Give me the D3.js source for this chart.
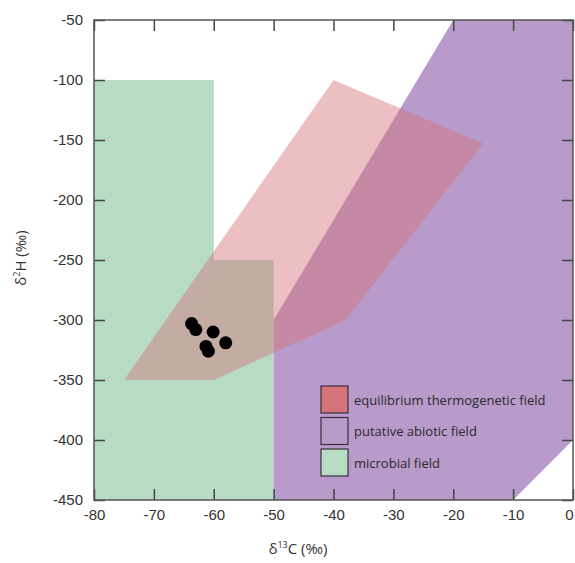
<!DOCTYPE html>
<html>
<head>
<meta charset="utf-8">
<script src="https://cdn.jsdelivr.net/npm/d3@7"></script>
<style>
  body { margin: 0; background: #fff; }
  svg { display: block; font-family: "Open Sans", "Noto Sans", sans-serif; }
  .axis text { fill: #333; font-size: 15px; }
</style>
</head>
<body>
<div id="chart"></div>
<script>
// fields as polygons in (d13C, d2H) space
const microbialField = [[-80, -100], [-60, -100], [-60, -250], [-50, -250], [-50, -450], [-80, -450]];
const abioticField = [[-50, -450], [-50, -300], [-20, -50], [0, -50], [0, -400], [-10, -450]];
const thermogenicField = [[-75, -350], [-40, -100], [-15, -153], [-38, -300], [-60, -350]];

// measured samples
const sampleC = [-63.7, -63.0, -60.1, -58.0, -61.3, -60.9];
const sampleH = [-303, -308, -310, -319, -322, -326];

const xTicks = [-80, -70, -60, -50, -40, -30, -20, -10, 0];
const yTicks = [-50, -100, -150, -200, -250, -300, -350, -400, -450];

const legendLabels = ['equilibrium thermogenetic field', 'putative abiotic field', 'microbial field'];
const legendColors = ['#d4737a', '#b89bcb', '#b6dcc4'];

const w = 575, h = 563;
const margin = {top: 20, right: 2, bottom: 63, left: 94};
const width = w - margin.left - margin.right;
const height = h - margin.top - margin.bottom;

const x = d3.scaleLinear().domain([-80, 0]).range([0, width]);
const y = d3.scaleLinear().domain([-50, -450]).range([0, height]);

const svg = d3.select('#chart').append('svg')
  .attr('width', w)
  .attr('height', h);

const chart = svg.append('g')
  .attr('transform', 'translate(' + margin.left + ',' + margin.top + ')');

chart.append('clipPath').attr('id', 'clip')
  .append('rect').attr('width', width).attr('height', height);

const line = d3.line().x(d => x(d[0])).y(d => y(d[1]));

const fields = chart.append('g').attr('clip-path', 'url(#clip)');

fields.append('path')
  .attr('d', line(microbialField) + 'Z')
  .style('fill', '#b7dbc3');

fields.append('path')
  .attr('d', line(abioticField) + 'Z')
  .style('fill', '#b89bcb');

fields.append('path')
  .attr('d', line(thermogenicField) + 'Z')
  .style('fill', '#d4737a')
  .style('fill-opacity', 0.45);

chart.append('g')
  .selectAll('circle')
  .data(sampleC)
  .enter()
  .append('circle')
  .attr('cx', d => x(d))
  .attr('cy', (d, i) => y(sampleH[i]))
  .attr('r', 6.5)
  .style('fill', '#000');

// axes with inward ticks on all four sides
const tickLen = 11;
const fmt = d => String(d);
const xAxis = chart.append('g')
  .attr('class', 'x axis')
  .attr('transform', 'translate(0,' + height + ')')
  .call(d3.axisBottom(x).tickValues(xTicks).tickSizeInner(-tickLen).tickSizeOuter(0).tickPadding(9).tickFormat(fmt));

// keep the last label inside the page
xAxis.selectAll('.tick text').filter(d => d === 0)
  .attr('text-anchor', 'end')
  .attr('dx', 0);

chart.append('g')
  .attr('class', 'y axis')
  .call(d3.axisLeft(y).tickValues(yTicks).tickSizeInner(-tickLen).tickSizeOuter(0).tickPadding(11).tickFormat(fmt));

chart.append('g')
  .attr('class', 'axis')
  .call(d3.axisTop(x).tickValues(xTicks).tickSizeInner(-tickLen).tickSizeOuter(0).tickFormat(''));

chart.append('g')
  .attr('class', 'axis')
  .attr('transform', 'translate(' + width + ',0)')
  .call(d3.axisRight(y).tickValues(yTicks).tickSizeInner(-tickLen).tickSizeOuter(0).tickFormat(''));

chart.selectAll('.axis path.domain').remove();
chart.selectAll('.axis .tick line').style('stroke', '#444').style('stroke-width', 1.5);

chart.append('rect')
  .attr('width', width)
  .attr('height', height)
  .style('fill', 'none')
  .style('stroke', '#555')
  .style('stroke-width', 1.5);

// axis titles
const xt = svg.append('text')
  .attr('x', 298)
  .attr('y', 554)
  .attr('text-anchor', 'middle')
  .style('font-size', '15px')
  .style('fill', '#333');
xt.append('tspan').text('δ');
xt.append('tspan').attr('dy', -6).style('font-size', '9px').text('13');
xt.append('tspan').attr('dy', 6).text('C (‰)');

const yt = svg.append('text')
  .attr('transform', 'translate(26,258) rotate(-90)')
  .attr('text-anchor', 'middle')
  .style('font-size', '15px')
  .style('fill', '#333');
yt.append('tspan').text('δ');
yt.append('tspan').attr('dy', -6).style('font-size', '9px').text('2');
yt.append('tspan').attr('dy', 6).text('H (‰)');

// legend
const legend = svg.append('g')
  .attr('transform', 'translate(321,386)');

const items = legend.selectAll('g')
  .data(legendLabels)
  .enter()
  .append('g')
  .attr('transform', (d, i) => 'translate(0,' + i * 31.5 + ')');

items.append('rect')
  .attr('width', 27)
  .attr('height', 27)
  .style('fill', (d, i) => legendColors[i])
  .style('stroke', '#3a2f3a')
  .style('stroke-width', 1.2);

items.append('text')
  .attr('x', 33)
  .attr('y', 14)
  .attr('dy', '0.35em')
  .style('font-size', '13px')
  .style('fill', '#2a2a2a')
  .text(d => d);
</script>
</body>
</html>
